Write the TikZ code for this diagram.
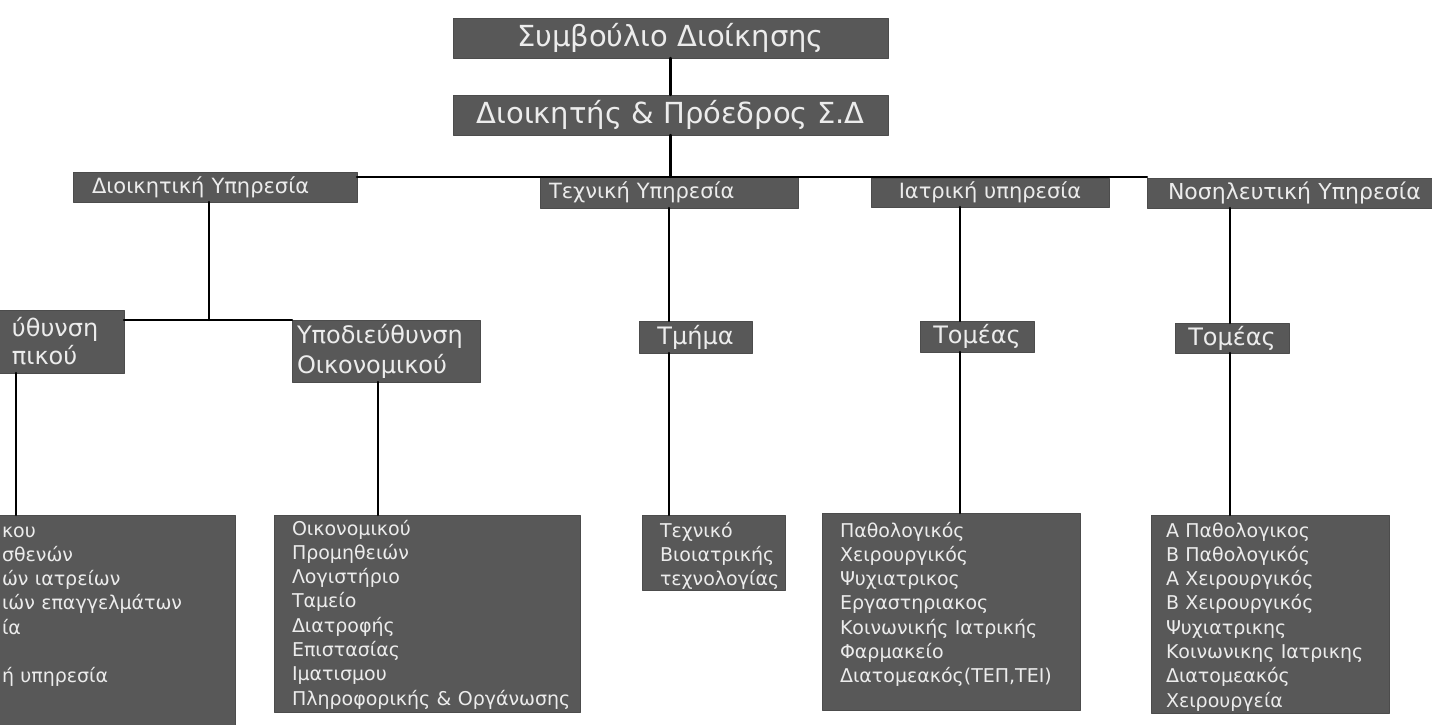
\documentclass[tikz,border=0pt]{standalone}
\usepackage{fontspec}
\setmainfont{DejaVu Sans}
\definecolor{boxgray}{RGB}{88,88,88}
\definecolor{boxtext}{RGB}{236,236,236}
\newcommand\fsz[2]{\fontsize{#1}{#2}\selectfont}
\begin{document}
\begin{tikzpicture}[x=1pt,y=-1pt,line cap=round,line join=round,
	box/.style={fill=boxgray,draw=black!70,line width=.6pt,text=boxtext,inner sep=0pt,outer sep=0pt},
	headbox/.style={box,minimum width=435,minimum height=40,font=\fsz{29}{32}},
	unitbox/.style={box,minimum height=30,font=\fsz{21}{24}},
	subbox/.style={box,minimum height=31,font=\fsz{24}{28}},
	listbox/.style={box,anchor=north west,align=left,font=\fsz{19}{24.3}},
	link/.style={draw=black,line width=2.4pt}]
	\clip (0,0) rectangle (1432,725);
	\fill[white] (0,0) rectangle (1432,725);
	% top
	\node[headbox] (sd) at (670.5,38) {Συμβούλιο Διοίκησης};
	\node[headbox] (dp) at (670.5,115) {Διοικητής \& Πρόεδρος Σ.Δ};
	% services
	\node[unitbox,anchor=west,minimum height=30,inner xsep=19,text width=246,align=left] (dy) at (73,187) {Διοικητική~Υπηρεσία};
	\node[unitbox,minimum height=31,inner xsep=9,text width=240,align=left] (ty) at (669,192.5) {Τεχνική~Υπηρεσία};
	\node[unitbox,minimum width=238,minimum height=29] (iy) at (990,192.5) {Ιατρική υπηρεσία};
	\node[unitbox,anchor=west,inner xsep=21,text width=258,align=left,font=\fsz{22}{24}] (ny) at (1147,193) {Νοσηλευτική~Υπηρεσία};
	% sub units
	\node[subbox,anchor=east,minimum height=63,inner xsep=14,text width=98,align=left,font=\fsz{24}{28}] (pros) at (124,341.5) {ύθυνση\\πικού};
	\node[subbox,anchor=north west,minimum height=62,inner xsep=5,text width=178,align=left,font=\fsz{24}{30}] (oik) at (292,320) {Υποδιεύθυνση\\Οικονομικού};
	\node[subbox,minimum width=113,minimum height=32] (tm) at (695.5,337) {Τμήμα};
	\node[subbox,minimum width=114] (to1) at (977,336.5) {Τομέας};
	\node[subbox,minimum width=114,minimum height=30] (to2) at (1232,338) {Τομέας};
	% lists
	\node[listbox,anchor=north east,inner xsep=12,text width=221,text height=22,text depth=200] (L) at (235,515)
		{κου\\σθενών\\ών~ιατρείων\\ιών~επαγγελμάτων\\ία\\[24.3pt]ή~υπηρεσία};
	\node[listbox,inner xsep=18,text width=270,text height=20,text depth=177] (oikl) at (274,515)
		{Οικονομικού\\Προμηθειών\\Λογιστήριο\\Ταμείο\\Διατροφής\\Επιστασίας\\Ιματισμου\\Πληροφορικής~\&~Οργάνωσης};
	\node[listbox,inner xsep=18,text width=107,text height=22,text depth=53] (tk) at (642,515)
		{Τεχνικό\\Βιοιατρικής\\τεχνολογίας};
	\node[listbox,inner xsep=18,text width=222,text height=24,text depth=173] (il) at (822,513)
		{Παθολογικός\\Χειρουργικός\\Ψυχιατρικος\\Εργαστηριακος\\Κοινωνικής~Ιατρικής\\Φαρμακείο\\Διατομεακός(ΤΕΠ,ΤΕΙ)};
	\node[listbox,inner xsep=15,text width=208,text height=22,text depth=176] (nl) at (1151,515)
		{Α~Παθολογικος\\Β~Παθολογικός\\Α~Χειρουργικός\\Β~Χειρουργικός\\Ψυχιατρικης\\Κοινωνικης~Ιατρικης\\Διατομεακός\\Χειρουργεία};
	% connectors
	\draw[link] (sd.south) -- (dp.north);
	\draw[link] (dp.south) -- (dp.south |- ty.north);
	\draw[link] (dy.east |- ty.north) -- (ny.west |- ty.north);
	\draw[link] ([xshift=-6]dy.south) coordinate (dyl) -- (dyl |- oik.north);
	\draw[link] (pros.east |- oik.north) -- (oik.north west);
	\draw[link] ([xshift=18]pros.south west) coordinate (prl) -- (prl |- L.north);
	\draw[link] ([xshift=-8]oik.south) coordinate (okl) -- (okl |- oikl.north);
	\draw[link] (ty.south) -- (ty.south |- tm.north) (ty.south |- tm.south) -- (ty.south |- tk.north);
	\draw[link] ([xshift=-30]iy.south) coordinate (iyl) -- (iyl |- to1.north) (iyl |- to1.south) -- (iyl |- il.north);
	\draw[link] ([xshift=83]ny.south west) coordinate (nyl) -- (nyl |- to2.north) (nyl |- to2.south) -- (nyl |- nl.north);
\end{tikzpicture}
\end{document}
